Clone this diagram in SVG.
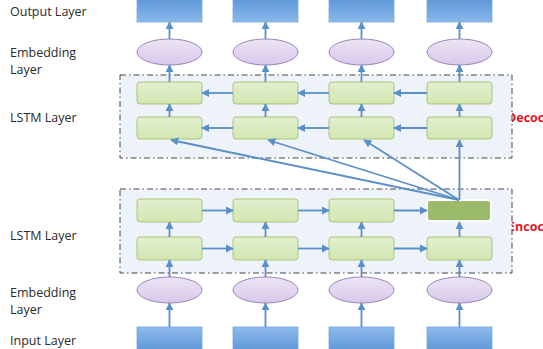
<svg xmlns="http://www.w3.org/2000/svg" width="543" height="349" viewBox="0 0 543 349">
<defs>
<linearGradient id="gBlue" x1="0" y1="0" x2="0" y2="1">
<stop offset="0" stop-color="#5a94d6"/>
<stop offset="1" stop-color="#89b8ea"/>
</linearGradient>
<linearGradient id="gBlueIn" x1="0" y1="0" x2="0" y2="1">
<stop offset="0" stop-color="#8dbbeb"/>
<stop offset="1" stop-color="#5a94d6"/>
</linearGradient>
<linearGradient id="gGreen" x1="0" y1="0" x2="0" y2="1">
<stop offset="0" stop-color="#e3efcf"/>
<stop offset="1" stop-color="#d2e6b1"/>
</linearGradient>
<linearGradient id="gPurple" x1="0" y1="0" x2="0" y2="1">
<stop offset="0" stop-color="#ede5f5"/>
<stop offset="1" stop-color="#d8c8ea"/>
</linearGradient>
<marker id="ah" viewBox="0 0 10 10" refX="9" refY="5" markerWidth="4.5" markerHeight="4.5" orient="auto" markerUnits="strokeWidth">
<path d="M0,0 L10,5 L0,10 z" fill="#5b8fc8"/>
</marker>
<style>
.lbl{font-family:"Open Sans","Liberation Sans",sans-serif;font-size:12.5px;fill:#2a2a2a}
.red{font-family:"Open Sans","Liberation Sans",sans-serif;font-size:12.5px;font-weight:bold;fill:#e8141c}
.cont{fill:#eef2f9;stroke:#444;stroke-width:1;stroke-dasharray:6,3,1.5,3}
.blue{fill:url(#gBlue);stroke:#7aa7dc;stroke-width:0.8}
.blueIn{fill:url(#gBlueIn);stroke:#7aa7dc;stroke-width:0.8}
.green{fill:url(#gGreen);stroke:#a8c67c;stroke-width:1}
.dark{fill:#9bbb6a;stroke:#ffffff;stroke-width:2}
.ell{fill:url(#gPurple);stroke:#9a85b8;stroke-width:1}
.arr{stroke:#5b8fc8;stroke-width:1.8;fill:none;marker-end:url(#ah)}
</style>
</defs>

<g id="labels">
<text class="lbl" x="10" y="16">Output Layer</text>
<text class="lbl" x="10" y="57">Embedding</text>
<text class="lbl" x="10" y="74">Layer</text>
<text class="lbl" x="10" y="122">LSTM Layer</text>
<text class="lbl" x="10" y="240">LSTM Layer</text>
<text class="lbl" x="10" y="297">Embedding</text>
<text class="lbl" x="10" y="314">Layer</text>
<text class="lbl" x="10" y="345">Input Layer</text>
<text class="red" x="507" y="122">Decoc</text>
<text class="red" x="508" y="231">Encoc</text>
</g>

<g id="decoder">
<rect class="cont" x="120" y="75" width="392" height="83"/>
</g>
<g id="encoder">
<rect class="cont" x="120" y="189" width="392" height="84"/>
</g>

<g id="output-layer">
<rect class="blue" x="137" y="-3" width="65" height="25"/>
<rect class="blue" x="233" y="-3" width="65" height="25"/>
<rect class="blue" x="329" y="-3" width="65" height="25"/>
<rect class="blue" x="427" y="-3" width="65" height="25"/>
</g>
<g id="dec-embedding">
<ellipse class="ell" cx="169.5" cy="52" rx="32.5" ry="13"/>
<ellipse class="ell" cx="265.5" cy="52" rx="32.5" ry="13"/>
<ellipse class="ell" cx="361.5" cy="52" rx="32.5" ry="13"/>
<ellipse class="ell" cx="459.5" cy="52" rx="32.5" ry="13"/>
</g>
<g id="dec-lstm-top">
<rect class="green" x="137" y="82" width="65" height="22" rx="3"/>
<rect class="green" x="233" y="82" width="65" height="22" rx="3"/>
<rect class="green" x="329" y="82" width="65" height="22" rx="3"/>
<rect class="green" x="427" y="82" width="65" height="22" rx="3"/>
</g>
<g id="dec-lstm-bottom">
<rect class="green" x="137" y="117" width="65" height="22" rx="3"/>
<rect class="green" x="233" y="117" width="65" height="22" rx="3"/>
<rect class="green" x="329" y="117" width="65" height="22" rx="3"/>
<rect class="green" x="427" y="117" width="65" height="22" rx="3"/>
</g>
<g id="enc-lstm-top">
<rect class="green" x="137" y="199" width="65" height="23" rx="3"/>
<rect class="green" x="233" y="199" width="65" height="23" rx="3"/>
<rect class="green" x="329" y="199" width="65" height="23" rx="3"/>
<rect class="dark" x="427" y="200" width="64" height="21" rx="3"/>
</g>
<g id="enc-lstm-bottom">
<rect class="green" x="137" y="237" width="65" height="23" rx="3"/>
<rect class="green" x="233" y="237" width="65" height="23" rx="3"/>
<rect class="green" x="329" y="237" width="65" height="23" rx="3"/>
<rect class="green" x="427" y="237" width="65" height="23" rx="3"/>
</g>
<g id="enc-embedding">
<ellipse class="ell" cx="169.5" cy="290" rx="32.5" ry="13"/>
<ellipse class="ell" cx="265.5" cy="290" rx="32.5" ry="13"/>
<ellipse class="ell" cx="361.5" cy="290" rx="32.5" ry="13"/>
<ellipse class="ell" cx="459.5" cy="290" rx="32.5" ry="13"/>
</g>
<g id="input-layer">
<rect class="blueIn" x="137" y="327" width="65" height="26"/>
<rect class="blueIn" x="233" y="327" width="65" height="26"/>
<rect class="blueIn" x="329" y="327" width="65" height="26"/>
<rect class="blueIn" x="427" y="327" width="65" height="26"/>
</g>

<g id="connectors">
<path class="arr" d="M169.5,39 V22"/>
<path class="arr" d="M265.5,39 V22"/>
<path class="arr" d="M361.5,39 V22"/>
<path class="arr" d="M459.5,39 V22"/>
<path class="arr" d="M169.5,82 V65"/>
<path class="arr" d="M265.5,82 V65"/>
<path class="arr" d="M361.5,82 V65"/>
<path class="arr" d="M459.5,82 V65"/>
<path class="arr" d="M169.5,117 V104"/>
<path class="arr" d="M265.5,117 V104"/>
<path class="arr" d="M361.5,117 V104"/>
<path class="arr" d="M459.5,117 V104"/>
<path class="arr" d="M233,93 H202"/>
<path class="arr" d="M329,93 H298"/>
<path class="arr" d="M427,93 H394"/>
<path class="arr" d="M233,128 H202"/>
<path class="arr" d="M329,128 H298"/>
<path class="arr" d="M427,128 H394"/>
<path class="arr" d="M459,200 L171,140"/>
<path class="arr" d="M459,200 L268,140"/>
<path class="arr" d="M459,200 L364,140"/>
<path class="arr" d="M459.5,200 V140"/>
<path class="arr" d="M169.5,327 V303"/>
<path class="arr" d="M265.5,327 V303"/>
<path class="arr" d="M361.5,327 V303"/>
<path class="arr" d="M459.5,327 V303"/>
<path class="arr" d="M169.5,277 V260"/>
<path class="arr" d="M265.5,277 V260"/>
<path class="arr" d="M361.5,277 V260"/>
<path class="arr" d="M459.5,277 V260"/>
<path class="arr" d="M169.5,237 V222"/>
<path class="arr" d="M265.5,237 V222"/>
<path class="arr" d="M361.5,237 V222"/>
<path class="arr" d="M459.5,237 V222"/>
<path class="arr" d="M202,210.5 H233"/>
<path class="arr" d="M298,210.5 H329"/>
<path class="arr" d="M394,210.5 H427"/>
<path class="arr" d="M202,248.5 H233"/>
<path class="arr" d="M298,248.5 H329"/>
<path class="arr" d="M394,248.5 H427"/>
</g>
</svg>
